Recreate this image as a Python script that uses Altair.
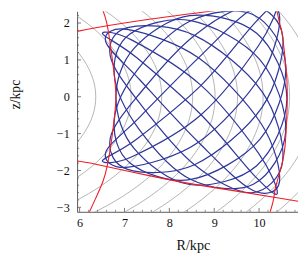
import altair as alt
import pandas as pd

# ---------------- axes ----------------
R_DOMAIN = [5.944, 10.868]
Z_DOMAIN = [-3.121, 2.317]
W, H = 227, 206

x_major = [6, 7, 8, 9, 10]
y_major = [-3, -2, -1, 0, 1, 2]
x_minor = [6.2, 6.4, 6.6, 6.8, 7.2, 7.4, 7.6, 7.8, 8.2, 8.4, 8.6, 8.8,
           9.2, 9.4, 9.6, 9.8, 10.2, 10.4, 10.6, 10.8]
y_minor = [-2.8, -2.6, -2.4, -2.2, -1.8, -1.6, -1.4, -1.2, -0.8, -0.6, -0.4, -0.2,
           0.2, 0.4, 0.6, 0.8, 1.2, 1.4, 1.6, 1.8, 2.2]

# ---------------- gray potential contours (R read at fixed heights z) ----------------
contour_z = [-3.3, -2.8, -2.0, -1.0, 0.0, 1.0, 2.0, 2.8]
contour_R = [
    [2.11, 3.81, 5.22, 6.09, 6.36, 6.09, 5.22, 3.81],
    [3.89, 5.02, 6.16, 6.91, 7.15, 6.91, 6.16, 5.02],
    [5.03, 5.95, 6.93, 7.62, 7.83, 7.62, 6.93, 5.95],
    [6.05, 6.83, 7.71, 8.32, 8.52, 8.32, 7.71, 6.83],
    [6.73, 7.45, 8.25, 8.83, 9.02, 8.83, 8.25, 7.45],
    [7.39, 8.04, 8.80, 9.34, 9.52, 9.34, 8.80, 8.04],
    [8.11, 8.71, 9.41, 9.92, 10.09, 9.92, 9.41, 8.71],
    [8.84, 9.39, 10.04, 10.53, 10.68, 10.53, 10.04, 9.39],
    [9.53, 10.04, 10.66, 11.11, 11.26, 11.11, 10.66, 10.04],
    [10.22, 10.70, 11.28, 11.71, 11.85, 11.71, 11.28, 10.70],
]

# ---------------- red curves ----------------
red_top_R = [5.90, 6.36, 7.55, 8.53, 9.50, 10.40, 11.20]
red_top_z = [1.755, 1.87, 2.10, 2.26, 2.41, 2.53, 2.64]
red_bot_R = [5.90, 6.36, 7.55, 8.53, 9.50, 10.40, 11.20]
red_bot_z = [-1.74, -1.83, -2.14, -2.37, -2.56, -2.74, -2.90]
red_left_R = [6.44, 6.56, 6.63, 6.71, 6.78, 6.81, 6.78, 6.71, 6.62, 6.52, 6.36, 6.19]
red_left_z = [2.60, 2.20, 1.85, 1.20, 0.50, 0.00, -0.50, -1.20, -1.85, -2.30, -2.75, -3.20]
red_right_R = [10.35, 10.46, 10.52, 10.60, 10.63, 10.60, 10.55, 10.45, 10.36, 10.32, 10.23]
red_right_z = [2.60, 1.99, 1.66, 0.80, 0.00, -1.00, -1.60, -2.10, -2.50, -2.80, -3.20]

# ---------------- blue orbit (loops of the box orbit) ----------------
orbit_R = [
    [10.407, 9.987, 8.707, 7.167, 6.509, 7.269, 8.707, 9.907],
    [10.455, 10.048, 8.649, 7.090, 6.578, 7.346, 8.649, 9.846],
    [10.529, 10.062, 8.560, 7.071, 6.682, 7.364, 8.560, 9.833],
    [10.594, 10.022, 8.481, 7.122, 6.774, 7.314, 8.481, 9.872],
    [10.620, 9.947, 8.450, 7.218, 6.810, 7.218, 8.450, 9.947],
    [10.594, 10.022, 8.481, 7.122, 6.774, 7.314, 8.481, 9.872],
    [10.529, 10.062, 8.560, 7.071, 6.682, 7.364, 8.560, 9.833],
    [10.455, 10.048, 8.649, 7.090, 6.578, 7.346, 8.649, 9.846],
    [10.407, 9.987, 8.707, 7.167, 6.509, 7.269, 8.707, 9.907],
]
orbit_z = [
    [2.521, 1.383, -0.488, -1.627, -1.734, -1.154, 0.308, 2.005],
    [2.210, 0.583, -1.235, -1.910, -1.526, -0.545, 1.055, 2.379],
    [1.628, -0.295, -1.844, -1.968, -1.135, 0.122, 1.664, 2.455],
    [0.843, -1.149, -2.243, -1.795, -0.608, 0.771, 2.063, 2.226],
    [-0.050, -1.870, -2.380, -1.410, -0.010, 1.319, 2.200, 1.721],
    [-0.943, 1.000, 2.063, 1.704, 0.589, -0.862, -2.243, -2.375],
    [-1.728, 0.146, 1.664, 1.877, 1.115, -0.213, -1.844, -2.604],
    [-2.310, -0.732, 1.055, 1.819, 1.506, 0.455, -1.235, -2.528],
    [-2.621, -1.532, 0.308, 1.536, 1.714, 1.063, -0.488, -2.154],
]

# ---------------- tables ----------------
def table(curves):
    rows = []
    for cid, (Rs, Zs) in enumerate(curves):
        for k, (r, z) in enumerate(zip(Rs, Zs)):
            rows.append({"R": r, "z": z, "cid": cid, "k": k})
    return pd.DataFrame(rows)

contours = table([(Rs, contour_z) for Rs in contour_R])
red = table([(red_top_R, red_top_z), (red_bot_R, red_bot_z),
             (red_left_R, red_left_z), (red_right_R, red_right_z)])
orbit = table(list(zip(orbit_R, orbit_z)))

FONT = "Liberation Serif, DejaVu Serif, serif"
AX_COLOR = "#555555"
TXT = "#111111"

def xenc(field="R"):
    return alt.X(f"{field}:Q",
                 scale=alt.Scale(domain=R_DOMAIN, nice=False, zero=False),
                 axis=alt.Axis(values=x_major, title="R/kpc", grid=False, ticks=False,
                               domainColor=AX_COLOR, labelPadding=5, labelFontSize=12.5,
                               titleFontSize=14.5, titleFontWeight="normal",
                               titleX=119, titleY=39, titleBaseline="alphabetic",
                               labelFont=FONT, titleFont=FONT, labelColor=TXT,
                               titleColor=TXT))

def yenc(field="z"):
    return alt.Y(f"{field}:Q",
                 scale=alt.Scale(domain=Z_DOMAIN, nice=False, zero=False),
                 axis=alt.Axis(values=y_major, title="z/kpc", grid=False, ticks=False,
                               domainColor=AX_COLOR, labelPadding=8, labelFontSize=12.5,
                               titleFontSize=14, titleFontWeight="normal",
                               titleX=-59, titleY=85, titleAlign="center",
                               titleBaseline="alphabetic", titleAngle=270,
                               labelFont=FONT, titleFont=FONT, labelColor=TXT,
                               titleColor=TXT))

gray = alt.Chart(contours).mark_line(interpolate="natural", clip=True, color="#a0a0a0",
                                     strokeWidth=0.8).encode(
    x=xenc(), y=yenc(), detail="cid:N", order="k:Q")

orb = alt.Chart(orbit).mark_line(interpolate="cardinal-closed", clip=True, color="#30379a",
                                 strokeWidth=1.25).encode(
    x=xenc(), y=yenc(), detail="cid:N", order="k:Q")

redl = alt.Chart(red).mark_line(interpolate="natural", clip=True, color="#ee1c25",
                                strokeWidth=1.1).encode(
    x=xenc(), y=yenc(), detail="cid:N", order="k:Q")

xt_maj = alt.Chart(pd.DataFrame({"R": x_major})).mark_rule(color=AX_COLOR, strokeWidth=0.8).encode(
    x=xenc(), y=alt.value(H), y2=alt.value(H - 4))
xt_min = alt.Chart(pd.DataFrame({"R": x_minor})).mark_rule(color=AX_COLOR, strokeWidth=0.7).encode(
    x=xenc(), y=alt.value(H), y2=alt.value(H - 2))
yt_maj = alt.Chart(pd.DataFrame({"z": y_major})).mark_rule(color=AX_COLOR, strokeWidth=0.8).encode(
    y=yenc(), x=alt.value(0), x2=alt.value(4))
yt_min = alt.Chart(pd.DataFrame({"z": y_minor})).mark_rule(color=AX_COLOR, strokeWidth=0.7).encode(
    y=yenc(), x=alt.value(0), x2=alt.value(2))

chart = alt.layer(gray, orb, redl, xt_maj, xt_min, yt_maj, yt_min).properties(
    width=W, height=H,
    autosize=alt.AutoSizeParams(type="none"),
    padding={"left": 71, "top": 0, "right": 0, "bottom": 42},
).configure_view(stroke=None).configure_axis(labelFont=FONT, titleFont=FONT)

chart.save("out.html", embed_options={"renderer": "svg", "actions": False})
